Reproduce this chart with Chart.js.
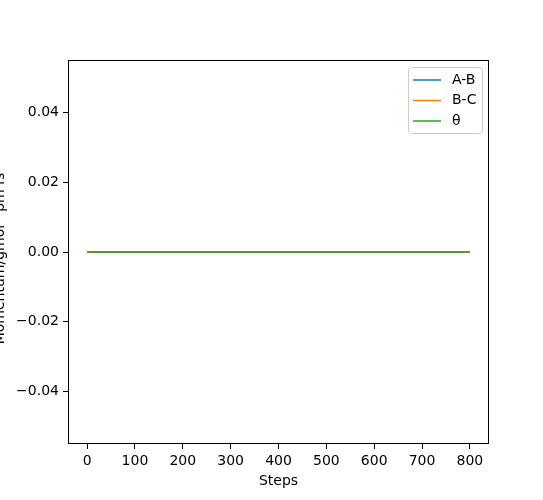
<!DOCTYPE html>
<html>
<head>
<meta charset="utf-8">
<script src="https://cdn.jsdelivr.net/npm/chart.js"></script>
<style>
  html, body { margin: 0; padding: 0; background: #fff; }
  #wrap { width: 543px; height: 500px; position: relative; }
</style>
</head>
<body>
<div id="wrap"><canvas id="c"></canvas></div>
<script>
const steps = [0, 100, 200, 300, 400, 500, 600, 700, 800];
const abValues = [0, 0, 0, 0, 0, 0, 0, 0, 0];
const bcValues = [0, 0, 0, 0, 0, 0, 0, 0, 0];
const thetaValues = [0, 0, 0, 0, 0, 0, 0, 0, 0];
const seriesNames = ['A-B', 'B-C', 'θ'];
const seriesColors = ['#1f77b4', '#ff7f0e', '#2ca02c'];
const yTicks = [-0.04, -0.02, 0, 0.02, 0.04];
const xTicks = [0, 100, 200, 300, 400, 500, 600, 700, 800];
const yLabel = 'Momentum/gmol⁻¹pm fs⁻¹';

const FONT = 'DejaVu Sans';
const FS = 14;

function toPoints(vals) {
  return steps.map((s, i) => ({ x: s, y: vals[i] }));
}

// full frame, legend box and the clipped y label
const extras = {
  id: 'extras',
  afterDraw(chart) {
    const { ctx, chartArea: a } = chart;
    ctx.save();
    ctx.strokeStyle = '#000';
    ctx.lineWidth = 1;
    ctx.strokeRect(a.left + 0.5, a.top + 0.5, a.right - a.left - 1, a.bottom - a.top - 1);

    // legend
    const bx = a.right - 81, by = a.top + 7, bw = 74, bh = 66;
    ctx.fillStyle = 'rgba(255,255,255,0.8)';
    ctx.strokeStyle = '#cccccc';
    ctx.beginPath();
    ctx.roundRect(bx + 0.5, by + 0.5, bw, bh, 3);
    ctx.fill();
    ctx.stroke();
    ctx.font = FS + 'px ' + FONT;
    ctx.textBaseline = 'middle';
    chart.data.datasets.forEach((ds, i) => {
      const y = by + 13 + i * 20.5;
      ctx.strokeStyle = ds.borderColor;
      ctx.lineWidth = 1.5;
      ctx.beginPath();
      ctx.moveTo(bx + 5, y);
      ctx.lineTo(bx + 33, y);
      ctx.stroke();
      ctx.fillStyle = '#000';
      ctx.fillText(ds.label, bx + 44, y);
    });

    // y label, partly off the left edge like the original
    ctx.translate(4, (a.top + a.bottom) / 2);
    ctx.rotate(-Math.PI / 2);
    ctx.font = FS + 'px ' + FONT;
    ctx.textAlign = 'center';
    ctx.textBaseline = 'alphabetic';
    ctx.fillStyle = '#000';
    ctx.fillText(yLabel, 0, 0);
    ctx.restore();
  }
};

new Chart(document.getElementById('c'), {
  type: 'line',
  data: {
    datasets: [abValues, bcValues, thetaValues].map((vals, i) => ({
      label: seriesNames[i],
      data: toPoints(vals),
      borderColor: seriesColors[i],
      backgroundColor: seriesColors[i],
      borderWidth: 1.5,
      pointRadius: 0,
      tension: 0,
      order: 3 - i
    }))
  },
  options: {
    responsive: true,
    maintainAspectRatio: false,
    animation: false,
    layout: { padding: { left: 0, right: 54, top: 60, bottom: 0 } },
    plugins: { legend: { display: false }, tooltip: { enabled: false } },
    scales: {
      x: {
        type: 'linear',
        min: -40,
        max: 840,
        afterBuildTicks: (ax) => { ax.ticks = xTicks.map(v => ({ value: v })); },
        afterFit: (ax) => { ax.height = 56; },
        grid: { display: true, drawOnChartArea: false, drawTicks: true, tickLength: 5, color: '#000' },
        border: { display: false },
        ticks: { color: '#000', font: { family: FONT, size: FS }, padding: 4, maxRotation: 0 },
        title: { display: true, text: 'Steps', color: '#000', font: { family: FONT, size: FS }, padding: { top: 0, bottom: 10 } }
      },
      y: {
        type: 'linear',
        min: -0.055,
        max: 0.055,
        afterBuildTicks: (ax) => { ax.ticks = yTicks.map(v => ({ value: v })); },
        afterFit: (ax) => { ax.width = 68; },
        grid: { display: true, drawOnChartArea: false, drawTicks: true, tickLength: 5, color: '#000' },
        border: { display: false },
        ticks: {
          color: '#000', font: { family: FONT, size: FS }, padding: 4,
          callback: (v) => (v < 0 ? '−' : '') + Math.abs(v).toFixed(2)
        }
      }
    }
  },
  plugins: [extras]
});
</script>
</body>
</html>
